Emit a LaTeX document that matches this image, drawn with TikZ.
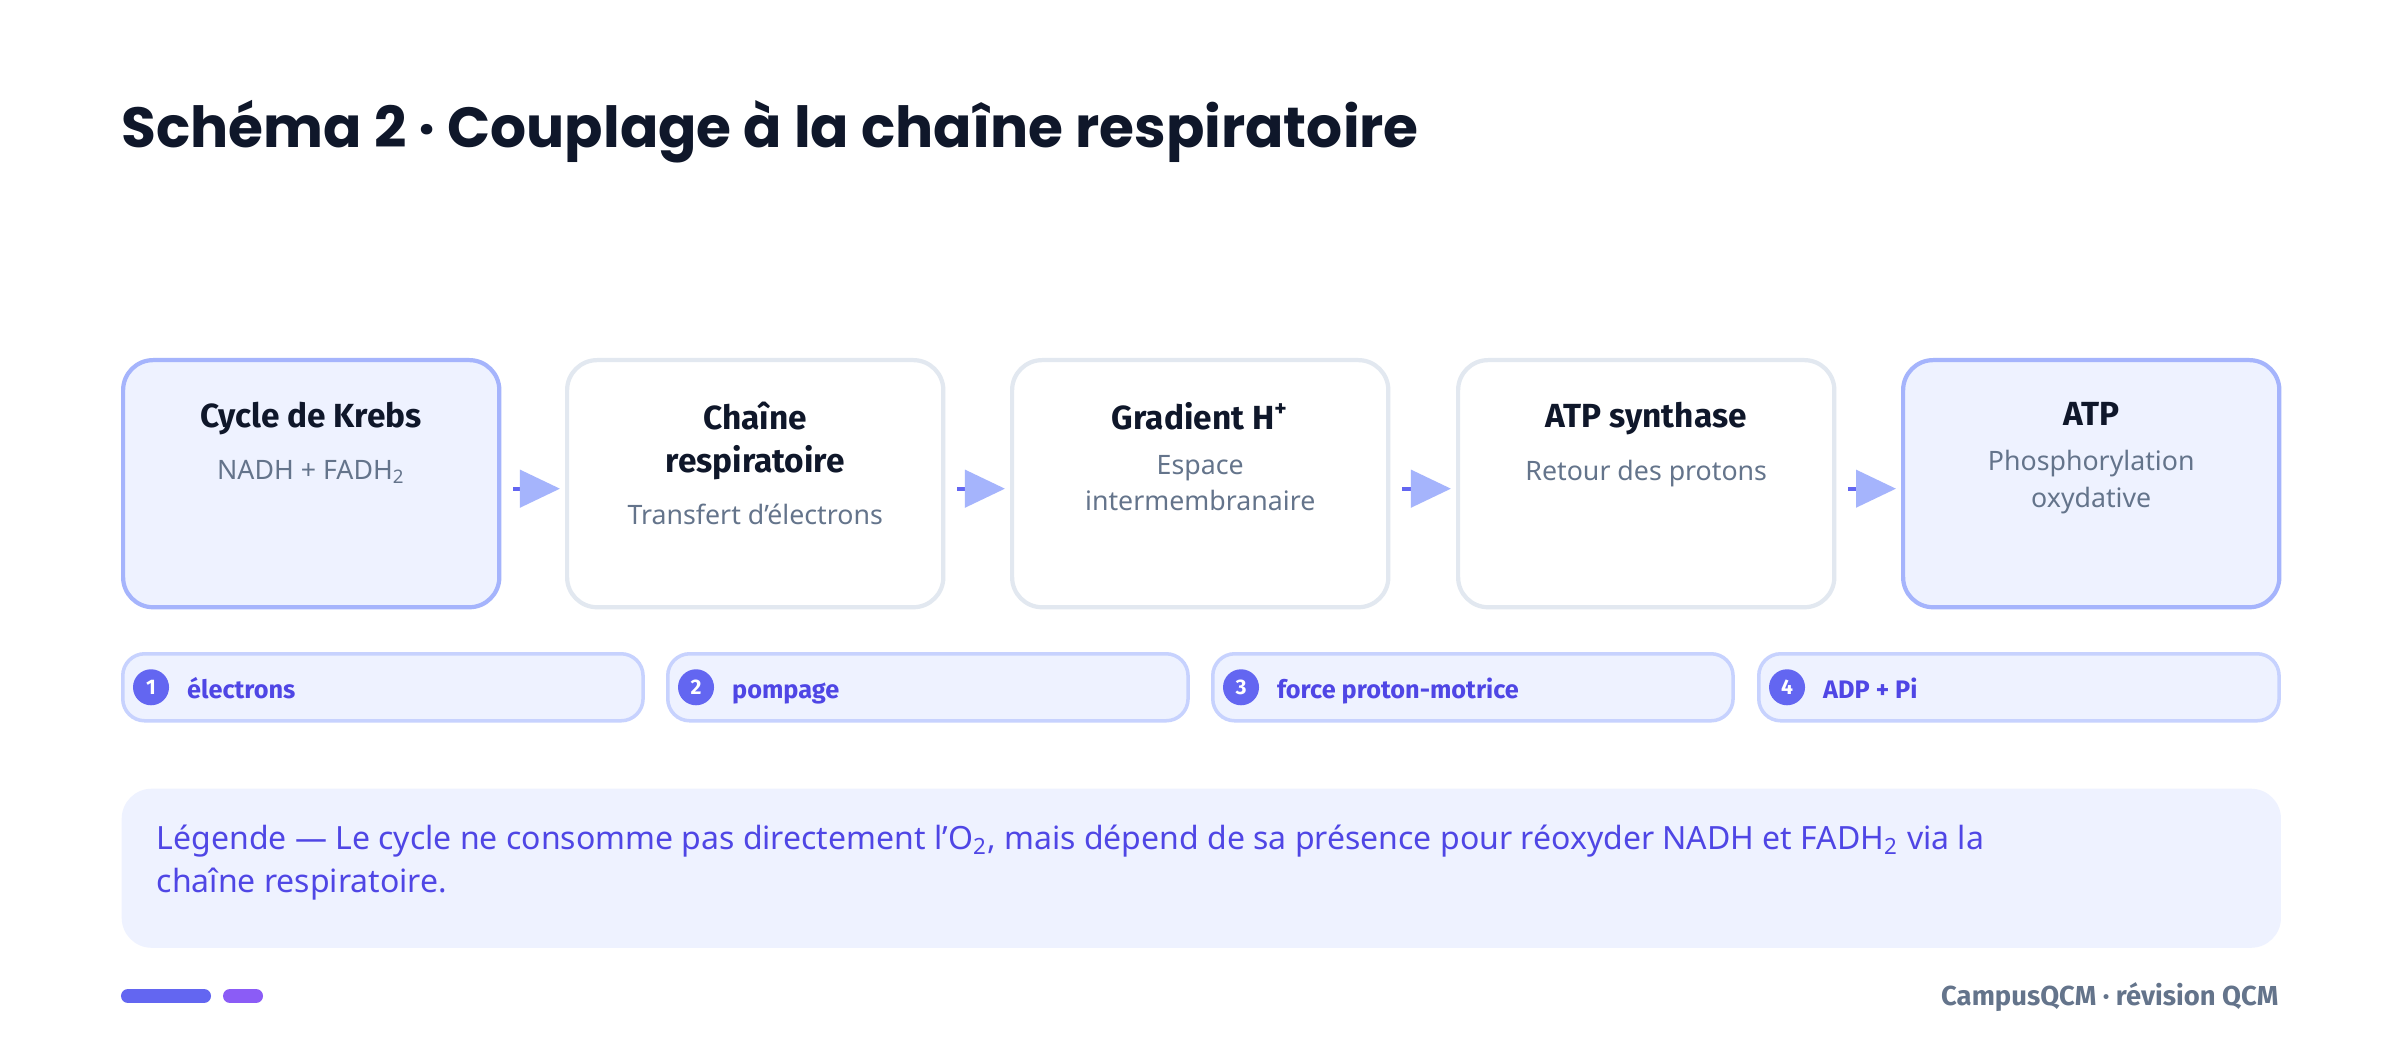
\documentclass[tikz,border=0pt]{standalone}
\usepackage{fontspec}
\setmainfont{Noto Sans}
\newfontfamily\headfont{Poppins}
\newfontfamily\labelfont{Fira Sans}
\usetikzlibrary{arrows.meta,positioning}
\definecolor{ink}{HTML}{0F172A}
\definecolor{muted}{HTML}{64748B}
\definecolor{indigo}{HTML}{6366F1}
\definecolor{indigodark}{HTML}{4F46E5}
\definecolor{indigolight}{HTML}{A5B4FC}
\definecolor{indigopale}{HTML}{C7D2FE}
\definecolor{paleback}{HTML}{EEF2FF}
\definecolor{slateline}{HTML}{E2E8F0}
\definecolor{violet}{HTML}{8B5CF6}
\tikzset{
  stage/.style={draw=slateline,line width=1.2pt,fill=white,rounded corners=0.3cm,
    minimum width=3.76cm,minimum height=2.47cm,anchor=north west},
  keystage/.style={stage,draw=indigolight,fill=paleback},
  stagetitle/.style={font=\labelfont\fontsize{9.5}{12}\selectfont\bfseries,text=ink,align=center,anchor=north},
  stagesub/.style={font=\fontsize{7.6}{10.5}\selectfont,text=muted,align=center,anchor=north},
  flow/.style={line width=1.2pt,draw=indigo,shorten <=0.12cm,shorten >=0.05cm,
    -{Triangle[length=0.4cm,width=0.37cm,color=indigolight]}},
  pill/.style={draw=indigopale,line width=1pt,fill=paleback,rounded corners=0.22cm,
    minimum width=5.2cm,minimum height=0.67cm,anchor=north west},
  badge/.style={circle,fill=indigo,text=white,inner sep=0pt,minimum size=0.36cm,
    font=\labelfont\fontsize{6}{7}\selectfont\bfseries},
  pilltext/.style={font=\labelfont\fontsize{7.2}{9}\selectfont\bfseries,text=indigodark,anchor=west,
    text height=1.6ex,text depth=0.4ex},
}
\begin{document}
\begin{tikzpicture}[x=0.01cm,y=-0.01cm]
\useasboundingbox[fill=white] (0,0) rectangle (2400,1058);
% title
\node[anchor=base west,inner sep=0pt,text=ink,font=\headfont\fontsize{16.1}{20}\selectfont\bfseries]
  (title) at (121,148) {Schéma 2 · Couplage à la chaîne respiratoire};
% stages
\node[keystage] (krebs) at (121,358) {};
\node[stage] (chain) at (565,358) {};
\node[stage] (grad) at (1010,358) {};
\node[stage] (synth) at (1456,358) {};
\node[keystage] (atp) at (1901,358) {};
\node[stagetitle] (krebsT) at ([yshift=-0.32cm]krebs.north) {Cycle de Krebs};
\node[stagesub] at (krebsT.south) {NADH + FADH\textsubscript{2}};
\node[stagetitle] (chainT) at ([yshift=-0.32cm]chain.north) {Chaîne\\respiratoire};
\node[stagesub] at (chainT.south) {Transfert d'électrons};
\node[stagetitle] (gradT) at ([yshift=-0.32cm]grad.north) {Gradient H\textsuperscript{+}};
\node[stagesub] at (gradT.south) {Espace\\intermembranaire};
\node[stagetitle] (synthT) at ([yshift=-0.32cm]synth.north) {ATP synthase};
\node[stagesub] at (synthT.south) {Retour des protons};
\node[stagetitle] (atpT) at ([yshift=-0.32cm]atp.north) {ATP};
\node[stagesub] at (atpT.south) {Phosphorylation\\oxydative};
% connectors
\draw[flow] ([yshift=-0.05cm]krebs.east) -- ([yshift=-0.05cm]chain.west);
\draw[flow] ([yshift=-0.05cm]chain.east) -- ([yshift=-0.05cm]grad.west);
\draw[flow] ([yshift=-0.05cm]grad.east) -- ([yshift=-0.05cm]synth.west);
\draw[flow] ([yshift=-0.05cm]synth.east) -- ([yshift=-0.05cm]atp.west);
% key points
\foreach \i/\x/\lbl in {1/121/électrons,2/666/pompage,3/1211/force proton-motrice,4/1757/ADP + Pi}{
  \node[pill] (pill\i) at (\x,652) {};
  \node[badge] (badge\i) at ([xshift=0.3cm]pill\i.west) {\i};
  \node[pilltext] at ([xshift=0.05cm]badge\i.east) {\lbl};
}
% legend
\node[fill=paleback,rounded corners=0.3cm,minimum width=21.58cm,minimum height=1.59cm,
  anchor=north west] (legend) at (121,788) {};
\node[anchor=north west,align=left,inner sep=0pt,text=indigodark,
  font=\fontsize{9.1}{12.3}\selectfont] at (156,824)
  {Légende — Le cycle ne consomme pas directement l'O\textsubscript{2}, mais dépend de sa présence pour réoxyder NADH et FADH\textsubscript{2} via la\\chaîne respiratoire.};
% footer
\draw[indigo,line width=0.14cm,line cap=round] (128,996) -- (204,996);
\draw[violet,line width=0.14cm,line cap=round] (230,996) -- (256,996);
\node[anchor=east,inner sep=0pt,text=muted,font=\labelfont\fontsize{7.8}{10}\selectfont\bfseries]
  (brand) at (2279,997) {CampusQCM · révision QCM};
\end{tikzpicture}
\end{document}
